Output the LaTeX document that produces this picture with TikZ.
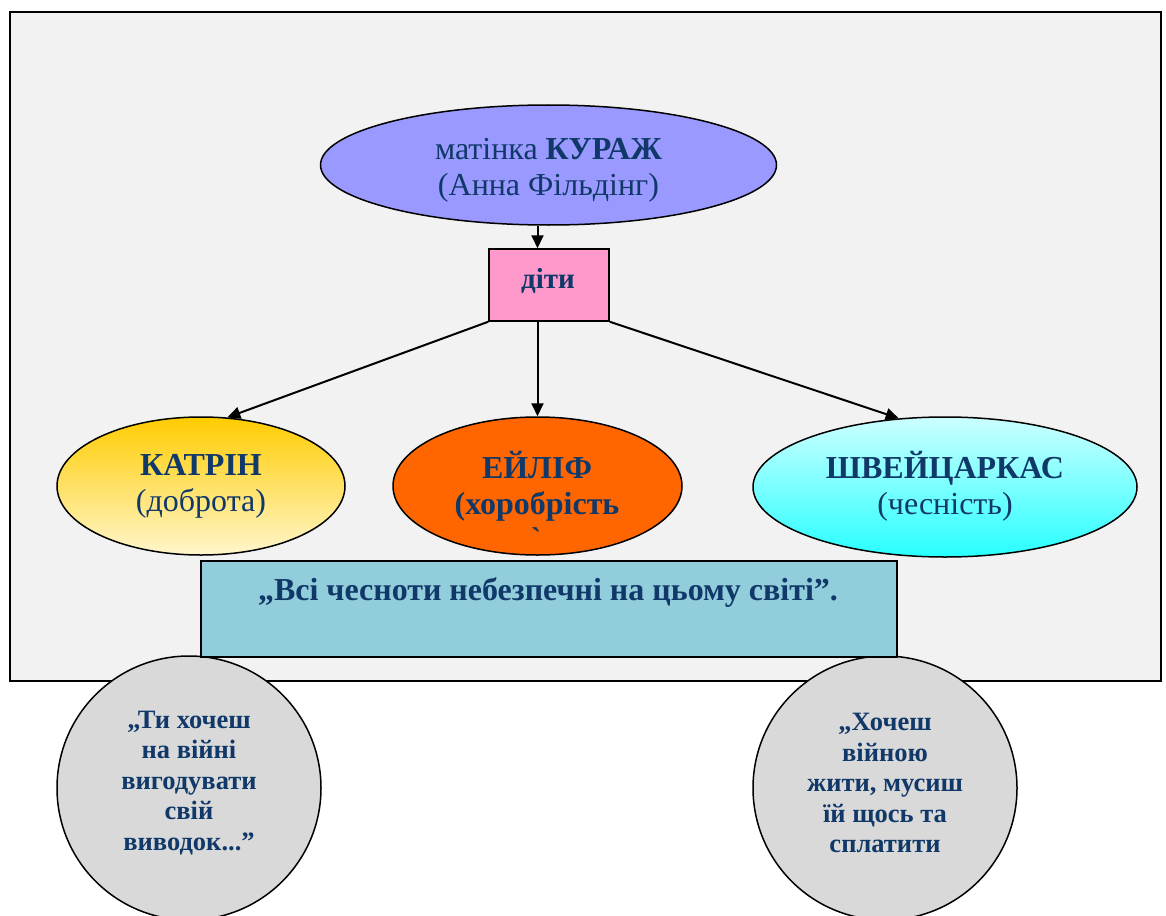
\documentclass[tikz,border=0pt]{standalone}
\usepackage{fontspec}
\setmainfont{Liberation Serif}
\usetikzlibrary{shapes.geometric,arrows.meta}
\definecolor{txtblue}{RGB}{16,56,104}
\definecolor{panelbg}{RGB}{242,242,242}
\definecolor{topfill}{RGB}{153,153,255}
\definecolor{pinkfill}{RGB}{255,153,204}
\definecolor{goldtop}{RGB}{255,204,0}
\definecolor{goldbot}{RGB}{255,246,204}
\definecolor{orangefill}{RGB}{255,102,0}
\definecolor{cyantop}{RGB}{204,255,255}
\definecolor{cyanbot}{RGB}{40,255,255}
\definecolor{quotefill}{RGB}{146,205,220}
\definecolor{circfill}{RGB}{217,217,217}
\tikzset{
  ell/.style={ellipse, draw=black, line width=1.5pt, inner sep=0pt},
  big/.style={font=\fontsize{32}{36}\selectfont, text=txtblue, align=center},
  bigb/.style={font=\fontsize{32}{36}\selectfont\bfseries, text=txtblue, align=center},
  circ/.style={circle, draw=black, line width=1.5pt, fill=circfill, minimum size=264pt, inner sep=0pt},
  circtext/.style={font=\fontsize{26.5}{30.5}\selectfont\bfseries, text=txtblue, align=center},
  conn/.style={line width=2pt, -{Triangle[length=13pt,width=12pt]}}
}
\begin{document}
\begin{tikzpicture}[x=1pt,y=-1pt]
\useasboundingbox (0,0) rectangle (1166,915);
\fill[white] (0,0) rectangle (1166,915);
% panel
\node[draw=black, line width=2pt, fill=panelbg, minimum width=1151pt, minimum height=669pt, inner sep=0pt] (panel) at (585.5,346.5) {};
% circles
\node[circ] (c1) at (189,788) {};
\node[circ] (c2) at (885,788) {};
\node[circtext] (c1t) at (189,783) {„Ти хочеш\\на війні\\вигодувати\\свій\\виводок...”};
\node[circtext] (c2t) at (885,783) {„Хочеш\\війною\\жити, мусиш\\їй щось та\\сплатити};
% quote rectangle
\node[draw=black, line width=1.5pt, fill=quotefill, minimum width=696pt, minimum height=96pt, inner sep=0pt] (quote) at (549,609) {};
\node[font=\fontsize{32}{34}\selectfont\bfseries, text=txtblue] (quotet) at (548,592) {„Всі чесноти небезпечні на цьому світі”.};
% top ellipse
\node[ell, fill=topfill, minimum width=456pt, minimum height=120pt] (top) at (548.5,165) {};
\node[big] (topt) at (548.5,170) {матінка \textbf{КУРАЖ}\\(Анна Фільдінг)};
% children box
\node[draw=black, line width=1.5pt, fill=pinkfill, minimum width=120pt, minimum height=72pt, inner sep=0pt] (box) at (549,285) {};
\node[font=\fontsize{29}{32}\selectfont\bfseries, text=txtblue] (boxt) at (548,281) {діти};
% three ellipses
\node[ell, top color=goldtop, bottom color=goldbot, minimum width=288pt, minimum height=138pt] (kat) at (201,486) {};
\node[big] (katt) at (201,486) {\textbf{КАТРІН}\\(доброта)};
\node[ell, fill=orangefill, minimum width=289pt, minimum height=138pt] (eil) at (537.5,486) {};
\node[bigb] (eilt) at (537,486) {ЕЙЛІФ\\(хоробрість};
\node[font=\fontsize{30}{30}\selectfont\bfseries, text=txtblue] (eilx) at (536,538) {\symbol{"02CB}};
\node[ell, top color=cyantop, bottom color=cyanbot, minimum width=384pt, minimum height=140pt] (shw) at (945,487) {};
\node[big] (shwt) at (945,486) {\textbf{ШВЕЙЦАРКАС}\\(чесність)};
% connectors
\draw[conn] (top.south -| eil.north) -- (box.north -| eil.north);
\draw[conn] (box.south west) -- (kat.69);
\draw[conn] (box.south -| eil.north) -- (eil.north);
\draw[conn] (box.south east) -- (shw.124);
\end{tikzpicture}
\end{document}
